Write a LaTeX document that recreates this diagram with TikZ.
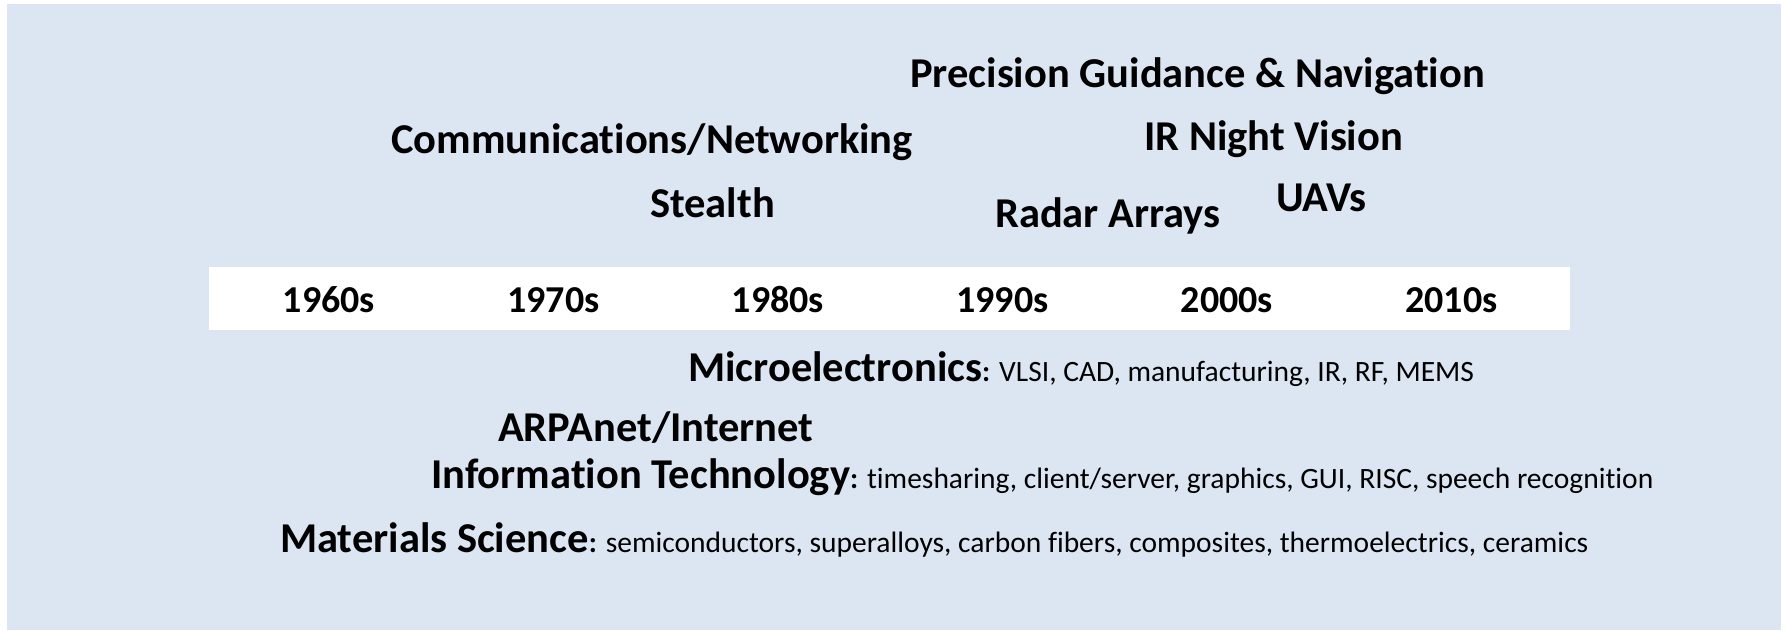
\documentclass[tikz,border=0pt]{standalone}
\usepackage{fontspec}
\setmainfont{Carlito}[Ligatures={NoCommon,NoContextual}]
\definecolor{bgblue}{HTML}{DCE6F2}
\tikzset{
  lbl/.style={anchor=base west, inner sep=0pt, font=\bfseries\fontsize{42.5}{46}\selectfont},
  dec/.style={anchor=base, inner sep=0pt, font=\bfseries\fontsize{38}{42}\selectfont},
}
\newcommand{\smalltxt}[1]{{\fontsize{29.5}{32}\selectfont #1}}
\begin{document}
\begin{tikzpicture}[x=1pt,y=-1pt]
\useasboundingbox (0,0) rectangle (1787,630);
\fill[white] (0,0) rectangle (1787,630);
\fill[bgblue] (7,4) rectangle (1781,630);
\fill[white] (209,267) rectangle (1570,330);
% upper labels
\node[lbl] (prec) at (910,87) {Precision Guidance \& Navigation};
\node[lbl] (comm) at (391,153) {Communications/Networking};
\node[lbl] (irnv) at (1144,150) {IR Night Vision};
\node[lbl] (stealth) at (650,217) {Stealth};
\node[lbl] (radar) at (995,227) {Radar Arrays};
\node[lbl] (uav) at (1276,211) {UAVs};
% decades
\node[dec] (d60) at (329,312) {1960s};
\node[dec] (d70) at (553.5,312) {1970s};
\node[dec] (d80) at (778,312) {1980s};
\node[dec] (d90) at (1002.5,312) {1990s};
\node[dec] (d00) at (1227,312) {2000s};
\node[dec] (d10) at (1451.5,312) {2010s};
% lower labels
\node[lbl] (micro) at (688,381) {Microelectronics\smalltxt{: \mdseries VLSI, CAD, manufacturing, IR, RF, MEMS}};
\node[lbl] (arpa) at (498,441) {ARPAnet/Internet};
\node[lbl] (info) at (431,488) {Information Technology\smalltxt{: \mdseries timesharing, client/server, graphics, GUI, RISC, speech recognition}};
\node[lbl] (mat) at (280,552) {Materials Science\smalltxt{: \mdseries semiconductors, superalloys, carbon fibers, composites, thermoelectrics, ceramics}};
\end{tikzpicture}
\end{document}
